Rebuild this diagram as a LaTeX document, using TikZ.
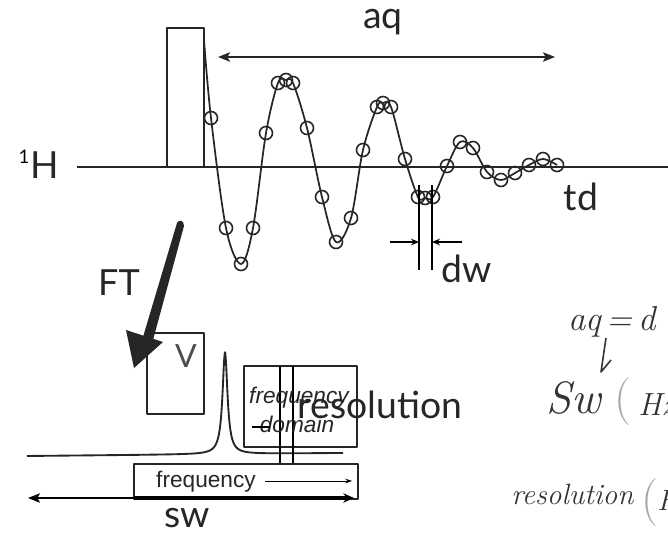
\documentclass[tikz,border=0pt]{standalone}
\usepackage{fontspec}
\usetikzlibrary{arrows.meta}
\newfontfamily\gill{Lato}
\newfontfamily\helv{Liberation Sans}
\begin{document}
\begin{tikzpicture}[x=0.75pt,y=-0.75pt, line join=round,
  ln/.style={line width=1.5pt, draw=black!85},
  box/.style={draw=black!85, line width=1.4pt, inner sep=0pt, outer sep=0pt},
  lab/.style={font=\gill\fontsize{28}{30}\selectfont, text=black!85, inner sep=0pt},
  bigtip/.style={{Stealth[length=9pt,width=7pt,inset=2pt]}-{Stealth[length=9pt,width=7pt,inset=2pt]}},
  tipr/.style={-{Stealth[length=6pt,width=5pt]}},
  hand/.style={font=\itshape\fontsize{26}{28}\selectfont, text=black!80, inner sep=0pt},
  samp/.style={line width=1.2pt, draw=black!85}]
\useasboundingbox (0,0) rectangle (668,536);
\clip (0,0) rectangle (668,536);

% axis and label
\coordinate (bl0) at (77,167);
\coordinate (bl1) at (668,167);
\draw[ln] (bl0) -- (bl1);
\node[font=\gill\fontsize{14}{16}\selectfont, inner sep=0pt] (one) at (24,157) {1};
\node[lab] (H) at (45,165) {H};

% pulse
\node[box, anchor=north west, minimum width=27.75pt, minimum height=104.25pt] (pulse) at (167,28) {};

% FID
\draw[line width=1.3pt, draw=black!85] plot[smooth, tension=0.55] coordinates {
 (204,40) (211,118) (226,228) (241,264) (253,228) (266,133) (278,83) (286,80) (293,83)
 (307,128) (322,197) (336,242) (351,218) (363,150) (377,107) (383,103) (391,107)
 (405,159) (418,197) (425,198) (433,197) (447,166) (460,142) (473,148) (487,172)
 (501,180) (515,173) (529,165) (543,159) (557,165)};
\foreach \a/\b in {211/118, 226/228, 241/264, 253/228, 266/133, 278/83, 286/80, 293/83,
 307/128, 322/197, 336/242, 351/218, 363/150, 377/107, 383/103, 391/107,
 405/159, 418/197, 425/198, 433/197, 447/166, 460/142, 473/148, 487/172,
 501/180, 515/173, 529/165, 543/159, 557/165}
  \draw[samp] (\a,\b) circle[radius=6.5];

% aq
\coordinate (aqL) at (218,57);
\coordinate (aqR) at (555,57);
\draw[ln, bigtip] (aqL) -- (aqR);
\node[lab] (aq) at (383,22) {aq};
\node[lab] (td) at (581,197) {td};

% dw
\coordinate (dwa1) at (419,185); \coordinate (dwa2) at (419,270);
\coordinate (dwb1) at (432,185); \coordinate (dwb2) at (432,270);
\draw[line width=1.2pt] (dwa1) -- (dwa2);
\draw[line width=1.2pt] (dwb1) -- (dwb2);
\coordinate (dwL) at (390,242); \coordinate (dwLe) at (419,242);
\coordinate (dwR) at (462,242); \coordinate (dwRe) at (432,242);
\draw[line width=1pt, tipr] (dwL) -- (dwLe);
\draw[line width=1pt, tipr] (dwR) -- (dwRe);
\node[lab] (dw) at (467,269) {dw};

% FT arrow
\node[font=\gill\fontsize{27}{29}\selectfont, text=black!85, inner sep=0pt] (FT) at (119,283) {FT};
\fill[black!85] (177,223) .. controls (179,219) and (184,220) .. (184,226) -- (153,340) -- (143,337) -- cycle;
\fill[black!85] (126,330) -- (163,342) -- (134,368) -- cycle;

% V box
\node[box, anchor=north west, minimum width=42.75pt, minimum height=60.75pt] (vbox) at (147,333) {};
\node[font=\gill\fontsize{24}{26}\selectfont, text=black!70, inner sep=0pt] (V) at (186,356) {V};

% spectrum
\draw[line width=1.4pt, draw=black!85] plot[domain=27:343, samples=320, smooth]
  (\x, {456-3*(\x-27)/316 - 102*0.09/(((\x-225)/10)^2+0.09)});

% frequency domain box
\node[box, anchor=north west, minimum width=84.75pt, minimum height=60.75pt] (fdbox) at (244,366) {};
\coordinate (v1t) at (280,366); \coordinate (v1b) at (280,464);
\coordinate (v2t) at (293,366); \coordinate (v2b) at (293,464);
\draw[line width=1.3pt] (v1t) -- (v1b);
\draw[line width=1.3pt] (v2t) -- (v2b);
\node[font=\helv\itshape\fontsize{17}{18}\selectfont, inner sep=0pt, text=black!85] (fq1) at (299,398) {frequency};
\node[font=\helv\itshape\fontsize{17}{18}\selectfont, inner sep=0pt, text=black!85] (dom) at (297,424) {domain};
\coordinate (s1) at (252,427); \coordinate (s2) at (270,427);
\draw[line width=1.2pt] (s1) -- (s2);
\node[lab] (res) at (380,405) {resolution};

% frequency bar
\node[box, anchor=north west, minimum width=168pt, minimum height=26.25pt] (fbar) at (134,464) {};
\node[font=\helv\fontsize{17}{18}\selectfont, inner sep=0pt, text=black!85] (fq2) at (206,482) {frequency};
\coordinate (ia) at (265,481); \coordinate (ib) at (352,481);
\draw[line width=0.7pt, -{Stealth[length=5pt,width=3.5pt]}] (ia) -- (ib);
\coordinate (ta) at (134,498); \coordinate (tb) at (354,498);
\draw[line width=2.6pt, -{Stealth[length=8pt,width=7pt]}] (ta) -- (tb);
\coordinate (swL) at (28,498);
\draw[line width=1.3pt, -{Stealth[length=9pt,width=7pt,inset=2pt]}] (ta) -- (swL);
\node[lab] (sw) at (187,518) {sw};

% handwriting
\node[hand, anchor=west] (h1) at (568,322) {aq\,=\,d};
\draw[line width=1.2pt, draw=black!80] (606,338) .. controls (604,355) .. (601,372) -- (611,360);
\node[font=\itshape\fontsize{34}{36}\selectfont, text=black!80, inner sep=0pt, anchor=west] (h2) at (546,398) {Sw};
\node[font=\fontsize{36}{38}\selectfont, text=black!35, inner sep=0pt] (p1) at (623,402) {(};
\node[font=\itshape\fontsize{24}{26}\selectfont, text=black!80, inner sep=0pt, anchor=west] (hz) at (638,405) {Hz};
\node[font=\itshape\fontsize{22}{24}\selectfont, text=black!80, inner sep=0pt, anchor=west] (h3) at (511,494) {resolution};
\node[font=\fontsize{36}{38}\selectfont, text=black!35, inner sep=0pt] (p2) at (650,503) {(};
\node[font=\itshape\fontsize{22}{24}\selectfont, text=black!80, inner sep=0pt, anchor=west] (hH) at (657,500) {H};
\end{tikzpicture}
\end{document}
